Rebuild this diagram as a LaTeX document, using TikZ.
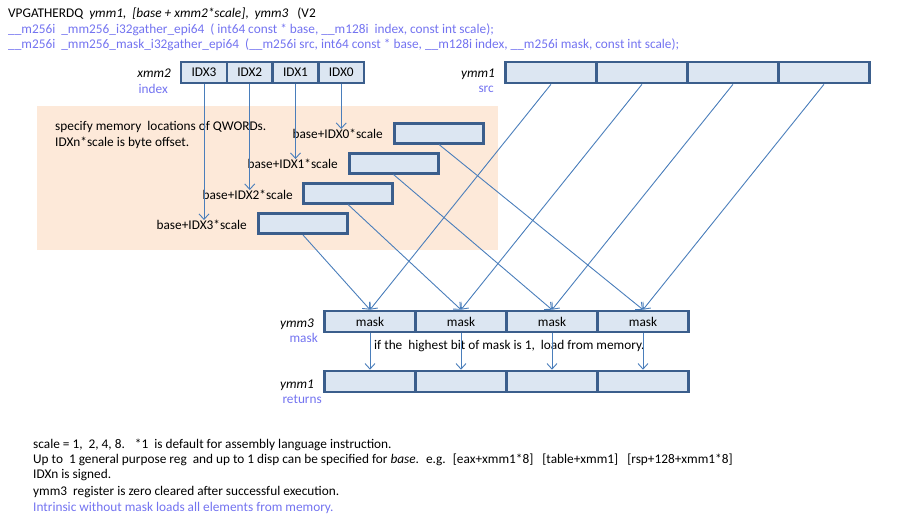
\documentclass[tikz,border=0pt]{standalone}
\usepackage{fontspec}
\setmainfont{Carlito}
\usetikzlibrary{arrows.meta}
\definecolor{regfill}{HTML}{DCE6F2}
\definecolor{regline}{HTML}{3B5E8C}
\definecolor{conn}{HTML}{4A7EBB}
\definecolor{peach}{HTML}{FDE9D9}
\definecolor{bluetext}{HTML}{7373F0}
\newcommand\myfs{\fontsize{13.3}{16}\selectfont}
\begin{document}
\begin{tikzpicture}[x=1pt,y=-1pt,
  reg/.style={draw=regline,fill=regfill,line width=2.6pt,minimum width=91pt,minimum height=21pt,inner sep=0pt,font=\myfs},
  ireg/.style={reg,minimum width=45.75pt},
  mem/.style={draw=regline,fill=regfill,line width=3pt,minimum width=89pt,minimum height=20pt,inner sep=0pt},
  txt/.style={inner sep=0pt,font=\myfs,text=black},
  btxt/.style={txt,text=bluetext},
  arr/.style={draw=conn,line width=0.9pt,-{Straight Barb[length=5.5pt,width=10pt]}},
  ]
\useasboundingbox (0,0) rectangle (898,523);
% header
\node[txt,anchor=west] (h1) at (8,14) {VPGATHERDQ~ \textit{ymm1,~ [base + xmm2*scale]},~ \textit{ymm3}~~ (V2};
\node[btxt,anchor=west] (h2) at (8,30) {\_\_m256i~ \_mm256\_i32gather\_epi64~ ( int64 const * base, \_\_m128i~ index, const int scale);};
\node[btxt,anchor=west] (h3) at (8,45) {\_\_m256i~ \_mm256\_mask\_i32gather\_epi64~ (\_\_m256i src, int64 const * base, \_\_m128i index, \_\_m256i mask, const int scale);};
% peach region
\node[fill=peach,inner sep=0pt,minimum width=461pt,minimum height=144pt,anchor=north west] (mreg) at (37,106) {};
\node[txt,anchor=west] (t1) at (55,127) {specify memory~ locations of QWORDs.};
\node[txt,anchor=west] (t2) at (55,143) {IDXn*scale is byte offset.};
% xmm2
\node[txt,anchor=east] (xl) at (171,73) {\textit{xmm2}};
\node[btxt,anchor=east] (xs) at (168,89) {index};
\node[ireg] (c3) at (204,72.5) {IDX3};
\node[ireg] (c2) at (249.75,72.5) {IDX2};
\node[ireg] (c1) at (295.5,72.5) {IDX1};
\node[ireg] (c0) at (341.25,72.5) {IDX0};
% ymm1 src
\node[txt,anchor=east] (yl) at (495,74) {\textit{ymm1}};
\node[btxt,anchor=east] (ys) at (494,89) {src};
\node[reg] (s3) at (551,72.5) {};
\node[reg] (s2) at (642,72.5) {};
\node[reg] (s1) at (733,72.5) {};
\node[reg] (s0) at (824,72.5) {};
% memory labels
\node[txt,anchor=east] (l0) at (383,134) {base+IDX0*scale};
\node[txt,anchor=east] (l1) at (338,164) {base+IDX1*scale};
\node[txt,anchor=east] (l2) at (293,195) {base+IDX2*scale};
\node[txt,anchor=east] (l3) at (247,225) {base+IDX3*scale};
% ymm3 mask
\node[txt,anchor=east] (ml) at (314,324) {\textit{ymm3}};
\node[btxt,anchor=east] (ms) at (318,338) {mask};
\node[reg] (m3) at (370,321.5) {mask};
\node[reg] (m2) at (461,321.5) {mask};
\node[reg] (m1) at (552,321.5) {mask};
\node[reg] (m0) at (643,321.5) {mask};
\node[txt,anchor=west] (mt) at (374,346) {if the~ highest bit of mask is 1,~ load from memory.};
% ymm1 returns
\node[txt,anchor=east] (rl) at (314,385) {\textit{ymm1}};
\node[btxt,anchor=east] (rs) at (322,399) {returns};
\node[reg] (r3) at (370,381.5) {};
\node[reg] (r2) at (461,381.5) {};
\node[reg] (r1) at (552,381.5) {};
\node[reg] (r0) at (643,381.5) {};
% connectors
\draw[arr] (c0.south) -- (c0.south |- l0.north);
\draw[arr] (c1.south) -- (c1.south |- l1.north);
\draw[arr] (c2.south) -- (c2.south |- l2.north);
\draw[arr] (c3.south) -- (c3.south |- l3.north);
% memory boxes
\node[mem] (b0) at (439,133) {};
\node[mem] (b1) at (393.5,163) {};
\node[mem] (b2) at (348,193) {};
\node[mem] (b3) at (303,223.5) {};
\draw[arr] (b0.south) -- (m0.north);
\draw[arr] (b1.south) -- (m1.north);
\draw[arr] (b2.south) -- (m2.north);
\draw[arr] (b3.south) -- (m3.north);
\draw[arr] (s0.south) -- (m0.north);
\draw[arr] (s1.south) -- (m1.north);
\draw[arr] (s2.south) -- (m2.north);
\draw[arr] (s3.south) -- (m3.north);
\draw[arr] (m0.south) -- (r0.north);
\draw[arr] (m1.south) -- (r1.north);
\draw[arr] (m2.south) -- (r2.north);
\draw[arr] (m3.south) -- (r3.north);
% footer
\node[txt,anchor=west] (f1) at (33,445) {scale = 1,~ 2, 4, 8.~~ *1~ is default for assembly language instruction.};
\node[txt,anchor=west] (f2) at (33,460) {Up to~ 1 general purpose reg~ and up to 1 disp can be specified for \textit{base}.~ e.g.~ [eax+xmm1*8]~~ [table+xmm1]~~ [rsp+128+xmm1*8]};
\node[txt,anchor=west] (f3) at (33,475) {IDXn is signed.};
\node[txt,anchor=west] (f4) at (33,492) {ymm3~ register is zero cleared after successful execution.};
\node[btxt,anchor=west] (f5) at (33,508) {Intrinsic without mask loads all elements from memory.};
\end{tikzpicture}
\end{document}
